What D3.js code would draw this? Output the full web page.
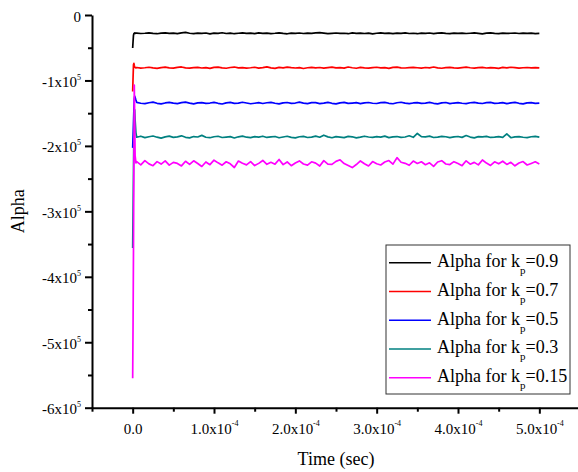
<!DOCTYPE html>
<html>
<head>
<meta charset="utf-8">
<script src="https://cdn.jsdelivr.net/npm/d3@7"></script>
<style>
  body { margin: 0; background: #fff; }
</style>
</head>
<body>
<script>
// Sample times in microseconds: a fine start-up segment, then every 5 µs
const timeMicros = [0, 0.5, 1, 1.5, 2, 2.5, 3, 4,
  5, 10, 15, 20, 25, 30, 35, 40, 45, 50, 55, 60, 65, 70, 75, 80, 85, 90, 95, 100,
  105, 110, 115, 120, 125, 130, 135, 140, 145, 150, 155, 160, 165, 170, 175, 180, 185, 190, 195, 200,
  205, 210, 215, 220, 225, 230, 235, 240, 245, 250, 255, 260, 265, 270, 275, 280, 285, 290, 295, 300,
  305, 310, 315, 320, 325, 330, 335, 340, 345, 350, 355, 360, 365, 370, 375, 380, 385, 390, 395, 400,
  405, 410, 415, 420, 425, 430, 435, 440, 445, 450, 455, 460, 465, 470, 475, 480, 485, 490, 495, 500];

// Alpha values in thousands, one array per proportional gain
const alphaKp09 = [-50.5, -40, -31, -28.5, -27.8, -27.4, -28.0, -27.7,
  -27.6,-28.3,-27.9,-27.2,-28.0,-28.6,-27.8,-27.4,-28.1,-27.7,
  -28.4,-27.3,-26.6,-27.9,-28.5,-27.8,-28.2,-27.5,-28.9,-27.6,
  -28.0,-27.1,-28.3,-27.7,-28.6,-27.9,-27.4,-28.2,-27.8,-28.5,
  -27.3,-28.0,-27.6,-28.4,-27.9,-27.2,-28.1,-28.7,-27.6,-28.0,
  -27.5,-28.3,-27.8,-28.1,-27.4,-26.9,-27.7,-28.4,-28.0,-27.5,
  -28.2,-27.9,-28.6,-27.4,-28.1,-27.7,-28.3,-27.6,-28.8,-27.9,
  -27.3,-28.2,-27.8,-28.5,-27.6,-28.0,-27.4,-28.3,-27.9,-28.6,
  -27.7,-28.1,-27.5,-28.4,-27.8,-27.2,-28.0,-28.5,-27.7,-28.2,
  -27.6,-28.3,-27.9,-27.4,-28.1,-28.7,-27.8,-27.3,-28.0,-28.4,
  -27.6,-28.2,-27.9,-27.5,-28.3,-27.8,-28.1,-27.6,-28.4,-28.0];

const alphaKp07 = [-117, -95, -76, -74, -77, -79.5, -80.3, -80.8,
  -80.2,-81.1,-80.6,-79.8,-80.9,-81.5,-80.3,-79.6,-80.8,-81.2,
  -80.0,-79.4,-80.7,-81.3,-80.5,-79.9,-81.0,-80.4,-81.6,-80.1,
  -79.7,-80.8,-81.4,-80.2,-79.5,-80.9,-80.3,-81.1,-80.6,-79.8,
  -81.2,-80.5,-79.3,-80.7,-81.5,-80.1,-80.8,-79.6,-80.4,-81.0,
  -80.3,-81.7,-80.6,-79.9,-80.8,-80.2,-81.3,-80.5,-79.7,-80.9,
  -80.4,-81.1,-79.5,-80.6,-81.4,-80.0,-80.7,-81.2,-80.3,-79.8,
  -80.9,-80.4,-81.5,-80.1,-79.6,-80.8,-81.0,-80.3,-79.9,-80.6,
  -81.3,-80.2,-80.7,-79.5,-80.9,-81.4,-80.5,-80.0,-80.8,-81.1,
  -80.3,-79.7,-80.6,-81.2,-80.4,-79.9,-81.0,-80.5,-80.8,-81.5,
  -80.1,-80.7,-79.8,-80.4,-81.1,-80.6,-80.2,-80.9,-80.5,-80.8];

const alphaKp05 = [-203, -185, -165, -145, -128, -124, -126, -130,
  -133.6,-134.8,-135.5,-134.1,-133.2,-134.9,-135.8,-134.4,-133.5,-134.7,
  -135.3,-134.0,-133.1,-134.6,-135.7,-134.3,-133.8,-135.0,-134.5,-133.4,
  -134.9,-136.0,-134.2,-133.6,-135.1,-134.7,-133.3,-134.4,-135.6,-134.8,
  -133.9,-135.2,-134.1,-133.5,-134.8,-135.9,-134.3,-133.7,-135.0,-134.5,
  -133.2,-134.6,-135.4,-134.0,-133.8,-135.3,-134.7,-133.4,-134.9,-135.7,
  -134.2,-133.6,-135.1,-134.5,-133.9,-135.5,-134.3,-133.7,-134.8,-135.2,
  -134.0,-133.5,-134.9,-135.6,-134.1,-133.3,-134.7,-135.4,-134.4,-133.8,
  -135.0,-134.6,-133.5,-134.9,-135.8,-134.2,-133.7,-135.3,-134.5,-133.9,
  -134.8,-135.5,-134.1,-133.4,-134.7,-135.2,-134.0,-133.6,-135.0,-134.6,
  -133.8,-135.4,-134.3,-133.5,-134.9,-135.7,-134.2,-133.9,-135.1,-134.6];

const alphaKp03 = [-356, -300, -240, -180, -150, -145, -160, -180,
  -186.8,-185.2,-187.4,-186.0,-184.9,-186.7,-188.1,-186.3,-185.1,-187.0,
  -186.2,-184.6,-186.9,-187.8,-185.7,-186.4,-183.9,-186.8,-187.5,-186.0,
  -185.3,-187.2,-186.5,-185.8,-187.9,-186.1,-185.0,-186.7,-187.4,-185.9,
  -186.6,-185.2,-187.1,-186.3,-185.6,-187.6,-186.4,-185.3,-186.9,-187.7,
  -186.0,-185.5,-187.2,-186.6,-185.1,-186.8,-183.6,-186.2,-187.5,-185.8,
  -186.5,-187.3,-185.4,-186.1,-187.8,-186.7,-185.2,-186.4,-187.1,-185.9,
  -186.6,-185.0,-187.3,-186.2,-185.7,-187.0,-186.4,-184.5,-186.9,-181.0,
  -185.8,-186.3,-185.1,-187.2,-186.7,-185.5,-186.0,-187.4,-186.3,-185.6,
  -187.0,-184.2,-186.5,-187.7,-185.9,-186.2,-185.4,-187.1,-186.6,-185.8,
  -186.9,-181.5,-187.5,-186.1,-185.7,-186.8,-187.3,-186.0,-185.5,-186.7];

const alphaKp015 = [-555, -470, -360, -230, -107, -160, -215, -226,
  -224.1,-228.9,-222.6,-227.5,-230.2,-224.0,-227.8,-222.9,-229.4,-225.2,
  -226.8,-230.6,-223.5,-228.3,-222.7,-226.9,-231.4,-224.6,-228.7,-221.8,
  -225.9,-229.5,-224.2,-227.4,-233.0,-223.1,-226.5,-229.0,-224.0,-230.1,
  -226.7,-222.3,-228.1,-225.0,-227.9,-220.8,-228.6,-224.5,-230.3,-226.2,
  -222.9,-227.6,-229.4,-224.3,-226.4,-230.8,-222.5,-227.7,-228.2,-223.6,
  -221.2,-226.9,-230.0,-233.1,-228.5,-223.0,-227.2,-230.7,-224.0,-227.3,
  -229.1,-224.7,-222.4,-227.8,-218.0,-225.0,-226.6,-229.6,-223.2,-226.9,
  -224.2,-228.8,-225.9,-231.2,-224.6,-222.6,-227.7,-228.5,-224.1,-227.0,
  -230.2,-222.8,-227.9,-225.2,-229.0,-221.5,-226.3,-229.8,-224.3,-227.4,
  -223.4,-228.3,-225.1,-230.4,-226.1,-223.9,-229.2,-226.8,-224.3,-227.6];

const seriesLabels = ["0.9", "0.7", "0.5", "0.3", "0.15"];
const seriesValues = [alphaKp09, alphaKp07, alphaKp05, alphaKp03, alphaKp015];
const seriesColors = ["#000000", "#ff0000", "#0000ff", "#008080", "#ff00ff"];

const xMajorTicks = [0, 1e-4, 2e-4, 3e-4, 4e-4, 5e-4];
const xMinorTicks = [-0.5e-4, 0.5e-4, 1.5e-4, 2.5e-4, 3.5e-4, 4.5e-4];
const yMajorTicks = [0, -1e5, -2e5, -3e5, -4e5, -5e5, -6e5];
const yMinorTicks = [-0.5e5, -1.5e5, -2.5e5, -3.5e5, -4.5e5, -5.5e5];

const FONT = "'Liberation Serif', 'Times New Roman', Times, serif";
const W = 578, H = 472;
const svg = d3.select("body").append("svg").attr("width", W).attr("height", H)
  .style("font-family", FONT);

const x = d3.scaleLinear().domain([-0.5e-4, 5.5e-4]).range([92, 580]);
const y = d3.scaleLinear().domain([-6e5, 0]).range([407.7, 15]);

// Data lines (later series drawn on top)
const line = d3.line()
  .x(d => x(d.t * 1e-6))
  .y(d => y(d.v * 1e3));

seriesValues.forEach((vals, i) => {
  const pts = vals.map((v, j) => ({ t: timeMicros[j], v }));
  svg.append("path")
    .datum(pts)
    .attr("fill", "none")
    .attr("stroke", seriesColors[i])
    .attr("stroke-width", 1.7)
    .attr("stroke-linejoin", "round")
    .attr("d", line);
});

// Axes
function styleAxis(g) {
  g.attr("font-family", null).style("font-family", FONT);
  g.selectAll("path, line").attr("stroke", "#000").attr("stroke-width", 2);
}

const gxMinor = svg.append("g").attr("transform", `translate(0,${y.range()[0]})`)
  .call(d3.axisBottom(x).tickValues(xMinorTicks).tickSize(4).tickSizeOuter(0).tickFormat(""));
gxMinor.select(".domain").remove();
styleAxis(gxMinor);

const gx = svg.append("g").attr("transform", `translate(0,${y.range()[0]})`)
  .call(d3.axisBottom(x).tickValues(xMajorTicks).tickSize(6).tickSizeOuter(0).tickPadding(10));
styleAxis(gx);
gx.selectAll(".tick text").each(function (d) {
  const t = d3.select(this).text(null)
    .style("font-family", FONT).attr("font-size", 15).attr("fill", "#000");
  if (d === 0) { t.text("0.0"); return; }
  t.append("tspan").text(`${(d / 1e-4).toFixed(1)}x10`);
  t.append("tspan").attr("dy", -8).attr("font-size", 8).text("-4");
});

const gyMinor = svg.append("g").attr("transform", `translate(92,0)`)
  .call(d3.axisLeft(y).tickValues(yMinorTicks).tickSize(4).tickSizeOuter(0).tickFormat(""));
gyMinor.select(".domain").remove();
styleAxis(gyMinor);

const gy = svg.append("g").attr("transform", `translate(92,0)`)
  .call(d3.axisLeft(y).tickValues(yMajorTicks).tickSize(7).tickSizeOuter(0).tickPadding(4));
styleAxis(gy);
gy.selectAll(".tick text").each(function (d) {
  const t = d3.select(this).text(null).attr("dy", "0.4em")
    .style("font-family", FONT).attr("font-size", 15).attr("fill", "#000");
  if (d === 0) { t.text("0"); return; }
  t.append("tspan").text(`${d / 1e5}x10`);
  t.append("tspan").attr("dy", -7).attr("font-size", 8).text("5");
});

// Axis titles
svg.append("text")
  .attr("x", 336).attr("y", 465)
  .attr("text-anchor", "middle").attr("font-size", 18)
  .style("font-family", FONT)
  .text("Time (sec)");

svg.append("text")
  .attr("transform", `translate(24,${(y.range()[0] + y.range()[1]) / 2}) rotate(-90)`)
  .attr("text-anchor", "middle").attr("font-size", 18)
  .style("font-family", FONT)
  .text("Alpha");

// Legend
const legend = svg.append("g");
legend.append("rect")
  .attr("x", 386).attr("y", 245).attr("width", 184).attr("height", 149)
  .attr("fill", "#fff").attr("stroke", "#333").attr("stroke-width", 1);

seriesLabels.forEach((lab, i) => {
  const cy = 262.7 + i * 28.75;
  legend.append("line")
    .attr("x1", 389).attr("x2", 431).attr("y1", cy).attr("y2", cy)
    .attr("stroke", seriesColors[i]).attr("stroke-width", 1.5);
  const t = legend.append("text")
    .attr("x", 437).attr("y", cy + 4.5).attr("font-size", 18)
    .style("font-family", FONT);
  t.append("tspan").text("Alpha for k");
  t.append("tspan").attr("dy", 7).attr("font-size", 11).text("p");
  t.append("tspan").attr("dy", -7).text("=" + lab);
});
</script>
</body>
</html>
